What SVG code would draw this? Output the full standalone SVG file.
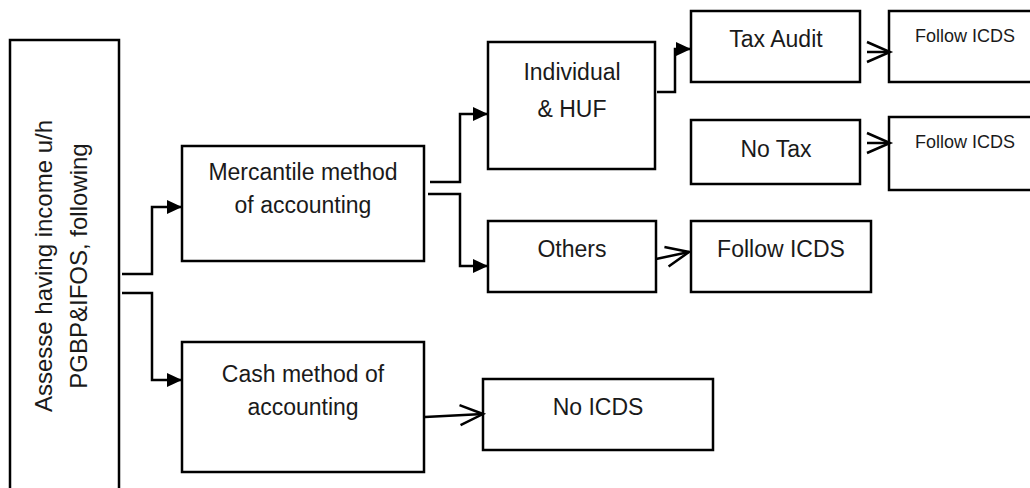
<svg xmlns="http://www.w3.org/2000/svg" width="1030" height="488" viewBox="0 0 1030 488">
<style>
.box{fill:#fff;stroke:#000;stroke-width:2.5}
.t{font-family:"Liberation Sans",Arial,sans-serif;font-size:23px;fill:#1a1a1a;text-anchor:middle}
.l{font-size:24px}
.s{font-family:"Liberation Sans",Arial,sans-serif;font-size:18px;fill:#1a1a1a;text-anchor:middle}
.c{fill:none;stroke:#000;stroke-width:2.5}
.cf{marker-end:url(#fa)}
.co{marker-end:url(#oa)}
</style>
<defs>
<marker id="fa" markerUnits="userSpaceOnUse" markerWidth="15" markerHeight="14" refX="15" refY="7" orient="auto" overflow="visible">
<path d="M0,0 L15,7 L0,14 z" fill="#000"/>
</marker>
<marker id="oa" markerUnits="userSpaceOnUse" markerWidth="23" markerHeight="20" refX="23" refY="10" orient="auto" overflow="visible">
<path d="M0,0 L23,10 L0,20" fill="none" stroke="#000" stroke-width="2.5"/>
</marker>
</defs>
<rect width="1030" height="488" fill="#fff"/>
<g id="assessee">
<rect class="box" x="10" y="40" width="109" height="470"/>
<text class="t l" transform="translate(52,266) rotate(-90)">Assesse having income u/h</text>
<text class="t l" transform="translate(87,266) rotate(-90)">PGBP&amp;IFOS, following</text>
</g>
<g id="mercantile">
<rect class="box" x="182" y="146" width="242" height="115"/>
<text class="t" x="303" y="180">Mercantile method</text>
<text class="t" x="303" y="213">of accounting</text>
</g>
<g id="cash">
<rect class="box" x="182" y="342" width="242" height="130"/>
<text class="t" x="303" y="382">Cash method of</text>
<text class="t" x="303" y="415">accounting</text>
</g>
<g id="individual">
<rect class="box" x="488" y="42" width="167" height="127"/>
<text class="t" x="572" y="80">Individual</text>
<text class="t" x="572" y="117">&amp; HUF</text>
</g>
<g id="others">
<rect class="box" x="488" y="221" width="168" height="71"/>
<text class="t" x="572" y="257">Others</text>
</g>
<g id="follow-others">
<rect class="box" x="691" y="221" width="180" height="71"/>
<text class="t" x="781" y="257">Follow ICDS</text>
</g>
<g id="tax-audit">
<rect class="box" x="691" y="11" width="169" height="71"/>
<text class="t" x="776" y="47">Tax Audit</text>
</g>
<g id="no-tax">
<rect class="box" x="691" y="120" width="169" height="64"/>
<text class="t" x="776" y="157">No Tax</text>
</g>
<g id="follow-audit">
<rect class="box" x="889" y="11" width="160" height="71"/>
<text class="s" x="965" y="42">Follow ICDS</text>
</g>
<g id="follow-notax">
<rect class="box" x="889" y="117" width="160" height="73"/>
<text class="s" x="965" y="148">Follow ICDS</text>
</g>
<g id="no-icds">
<rect class="box" x="483" y="379" width="230" height="71"/>
<text class="t" x="598" y="415">No ICDS</text>
</g>
<g id="connectors">
<path class="c cf" d="M122,274 H152 V207 H182"/>
<path class="c cf" d="M122,293 H152 V380 H182"/>
<path class="c cf" d="M430,182 H460 V114 H488"/>
<path class="c cf" d="M428,194 H460 V266 H488"/>
<path class="c cf" d="M657,92 H675 V49 H691"/>
<path class="c co" d="M867,52 H890"/>
<path class="c co" d="M867,143 H890"/>
<path class="c co" d="M656,259 L689,252"/>
<path class="c co" d="M425,417 L483,414"/>
</g>
</svg>
